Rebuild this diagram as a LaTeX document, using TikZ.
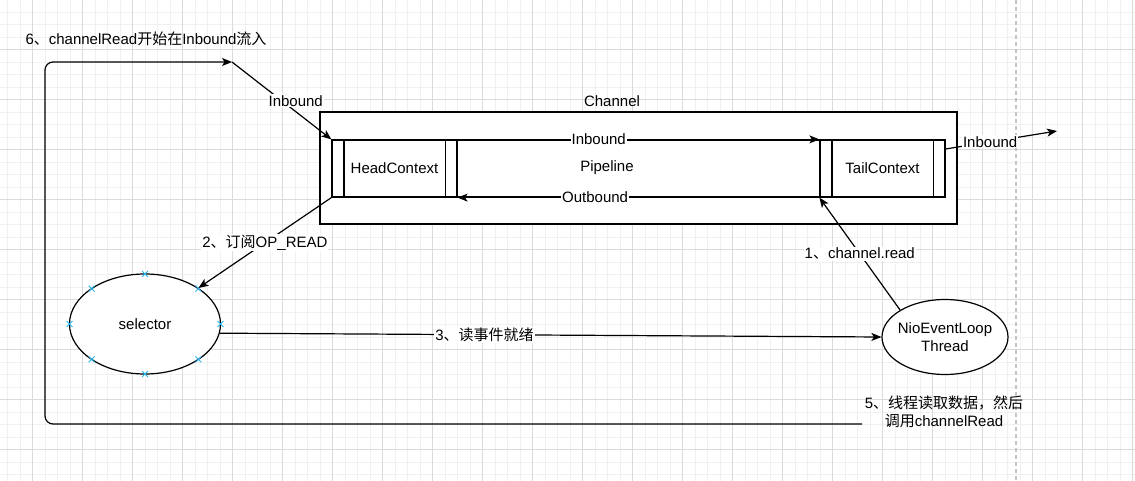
\documentclass[tikz,border=0pt]{standalone}
\usepackage{fontspec}
\setmainfont{Liberation Sans}
\newfontfamily\cjk{Noto Sans CJK SC}
\usetikzlibrary{arrows.meta, positioning, shapes.geometric, shapes.misc}
\definecolor{minorgrid}{HTML}{F0F0F0}
\definecolor{majorgrid}{HTML}{DADADA}
\definecolor{pagebreak}{HTML}{C4C4C4}
\definecolor{handle}{HTML}{29B6F2}

\begin{document}
\begin{tikzpicture}[
    x=1pt, y=-1pt, % pixel coordinates, y going down
    % Define box style
    box style/.style={
        draw, % Draw border
        rectangle, % Rectangle shape
        fill=white, % White inside
        inner sep=0pt,
        minimum height=57pt % Height of the pipeline row
      },
    % Define ellipse style
    ellipse style/.style={
        draw,
        ellipse,
        fill=white,
        align=center
      },
    % Define label style
    label style/.style={
        fill=white, % Hide the line behind the text
        inner sep=1pt
      },
    % Define connection handle style
    handle style/.style={
        draw=handle,
        cross out,
        minimum size=5pt,
        inner sep=0pt,
        line width=0.9pt
      },
    font=\fontsize{15}{18}\selectfont,
    >={Stealth[length=10pt, width=8pt, inset=2.5pt]}, % Arrow type
    line width=1.2pt % Line thickness
  ]

  % Background and grid
  \useasboundingbox (0,0) rectangle (1135,481);
  \fill[white] (0,0) rectangle (1135,481);
  \foreach \gx in {7.5,20,...,1135} \draw[minorgrid, line width=0.8pt] (\gx,0) -- (\gx,481);
  \foreach \gy in {12,24.5,...,481} \draw[minorgrid, line width=0.8pt] (0,\gy) -- (1135,\gy);
  \foreach \gx in {32.5,82.5,...,1135} \draw[majorgrid, line width=0.8pt] (\gx,0) -- (\gx,481);
  \foreach \gy in {49.5,99.5,...,481} \draw[majorgrid, line width=0.8pt] (0,\gy) -- (1135,\gy);
  \draw[pagebreak, dashed, dash pattern=on 4pt off 3pt] (1016,0) -- (1016,481);

  % Define nodes
  \node[box style, minimum width=637pt, minimum height=112pt] (Channel) at (638.5, 168) {}; % Outer channel box
  \node (ChannelLabel) at (612, 101) {Channel}; % Title above the box
  \node[box style, minimum width=613pt] (Pipeline) at (638.5, 168.5) {}; % Pipeline row
  \node (PipelineLabel) at (607, 168) {Pipeline};
  \node[box style, minimum width=125pt] (Head) at (394.5, 168.5) {HeadContext}; % Head on the left
  \node[box style, minimum width=125pt] (Tail) at (882.5, 168.5) {TailContext}; % Tail on the right

  % Side bars of the two contexts
  \draw ([xshift=12.5pt]Head.north west) -- ([xshift=12.5pt]Head.south west);
  \draw ([xshift=-12.5pt]Head.north east) -- ([xshift=-12.5pt]Head.south east);
  \draw ([xshift=12.5pt]Tail.north west) -- ([xshift=12.5pt]Tail.south west);
  \draw ([xshift=-12.5pt]Tail.north east) -- ([xshift=-12.5pt]Tail.south east);

  \node[ellipse style, minimum width=151pt, minimum height=100pt] (Selector) at (145, 324) {selector};
  \node[ellipse style, minimum width=126pt, minimum height=75pt, inner xsep=-4pt] (Loop) at (945, 337) {NioEventLoop\\Thread};

  % Connection handles round the selector
  \foreach \a in {0,45,...,315}
    \node[handle style] at ([shift={(\a:75.5 and 50)}]Selector.center) {};

  \node (StepSix) at (146, 39) {6{\cjk 、}channelRead{\cjk 开始在}Inbound{\cjk 流入}};
  \node[align=center] (StepFive) at (944, 412) {5{\cjk 、线程读取数据，然后}\\{\cjk 调用}channelRead};

  \coordinate (Back) at (862, 424); % start of the way back
  \coordinate (Turn) at (232, 62); % corner above the channel
  \coordinate (Out) at (1057, 131); % free end on the right

  % Draw arrows and labels
  % 1: loop thread reads the channel
  \draw[->] (Loop.149) -- (Tail.south west) node[label style, midway] {1{\cjk 、}channel.read};

  % 2: head registers on the selector
  \draw[->] (Head.south west) -- (Selector.34) node[label style, midway] {2{\cjk 、订阅}OP\_READ};

  % 3: selector tells the thread
  \draw[->] (Selector.-7) -- (Loop.west) node[label style, pos=0.4] {3{\cjk 、读事件就绪}};

  % inbound and outbound inside the pipeline
  \draw[->] (Head.north east) -- (Tail.north west) node[label style, pos=0.39] {Inbound};
  \draw[->] (Tail.south west) -- (Head.south east) node[label style, pos=0.62] {Outbound};
  \draw[->] ([yshift=19.5pt]Tail.east) -- (Out) node[label style, pos=0.4] {Inbound};

  % 5 and 6: way back round the picture into the head
  \draw[->, rounded corners=8pt] (Back) -- ++(-817, 0) |- (Turn);
  \draw[->] (Turn) -- (Head.north west) node[label style, midway, xshift=14pt] {Inbound};

\end{tikzpicture}
\end{document}
